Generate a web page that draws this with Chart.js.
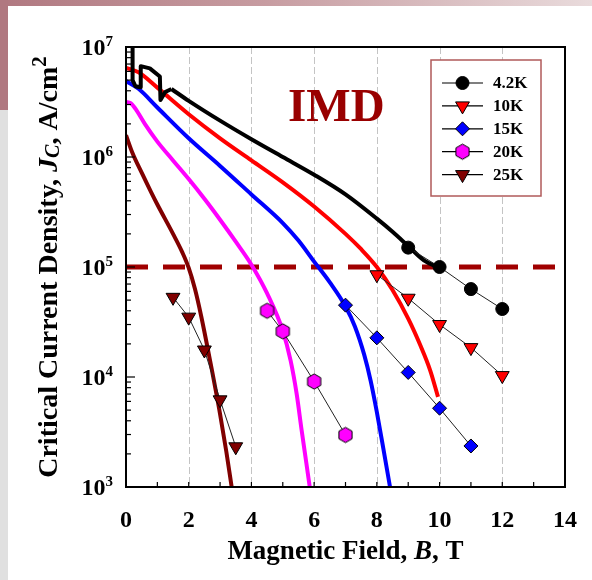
<!DOCTYPE html>
<html><head><meta charset="utf-8">
<script src="https://cdn.jsdelivr.net/npm/chart.js@4/dist/chart.umd.min.js"></script>
<style>
html,body{margin:0;padding:0;}
body{width:592px;height:580px;position:relative;background:#fff;overflow:hidden;}
#topband{position:absolute;left:0;top:0;width:592px;height:6px;background:linear-gradient(to right,#b07880,#c79ca1 45%,#e9dbdc);}
#leftbar{position:absolute;left:0;top:0;width:8px;height:110px;background:#b07880;}
#leftstrip{position:absolute;left:0;top:110px;width:8px;height:470px;background:#e0e0e0;}
canvas{position:absolute;left:0;top:0;}
</style></head>
<body>
<div id="topband"></div><div id="leftbar"></div><div id="leftstrip"></div>
<canvas id="c" width="592" height="580"></canvas>
<script>
// ---- Data (B in tesla, Jc in A/cm^2) ----
// Continuous measured curves
const curve42_jumpB = [0.21, 0.21, 0.30, 0.45, 0.47, 0.76, 1.08, 1.10, 1.25, 1.45];
const curve42_jumpJ = [1.3e7, 5.0e6, 4.4e6, 4.3e6, 6.7e6, 6.4e6, 5.4e6, 3.3e6, 3.9e6, 4.15e6];
const curve42B = [1.45, 2, 3, 4, 5, 6, 7, 8, 8.5, 9, 9.5, 10];
const curve42J = [4.15e6, 3.24e6, 2.14e6, 1.45e6, 1.0e6, 6.9e5, 4.57e5, 2.75e5, 2.09e5, 1.55e5, 1.15e5, 9.8e4];
const curve10B = [0, 0.4, 1, 2, 3, 4, 5, 6, 7, 7.5, 8, 8.5, 9, 9.4, 9.7, 9.95];
const curve10J = [6.46e6, 5.89e6, 4.27e6, 2.45e6, 1.48e6, 9.33e5, 5.89e5, 3.55e5, 2.0e5, 1.45e5, 1.0e5, 6.17e4, 3.39e4, 1.9e4, 1.15e4, 6.6e3];
const curve15B = [0, 0.4, 1, 2, 3, 4, 5, 5.5, 6, 6.5, 7, 7.3, 7.6, 7.8, 8.0, 8.2, 8.42];
const curve15J = [4.9e6, 4.17e6, 2.82e6, 1.48e6, 8.3e5, 4.57e5, 2.51e5, 1.74e5, 1.12e5, 7.24e4, 4.37e4, 2.88e4, 1.58e4, 9.3e3, 4.8e3, 2.29e3, 1.0e3];
const curve20B = [0, 0.15, 0.3, 0.6, 1, 1.5, 2, 2.5, 3, 3.5, 4, 4.5, 5, 5.25, 5.44, 5.6, 5.75, 5.86];
const curve20J = [3.16e6, 3.09e6, 2.75e6, 2.0e6, 1.38e6, 9.3e5, 6.3e5, 4.17e5, 2.69e5, 1.7e5, 1.05e5, 5.75e4, 2.63e4, 1.41e4, 7.1e3, 3.3e3, 1.66e3, 1.0e3];
const curve25B = [0, 0.2, 0.5, 0.8, 1, 1.5, 1.8, 2.0, 2.2, 2.4, 2.7, 3.0, 3.2, 3.37];
const curve25J = [1.58e6, 1.1e6, 7.2e5, 4.8e5, 3.7e5, 2.0e5, 1.35e5, 9.8e4, 6.3e4, 3.55e4, 1.32e4, 4.6e3, 2.09e3, 1.0e3];
// Discrete points (markers)
const mark42B = [9, 10, 11, 12];
const mark42J = [1.5e5, 1.0e5, 6.3e4, 4.15e4];
const mark10B = [8, 9, 10, 11, 12];
const mark10J = [8.5e4, 5.2e4, 3.0e4, 1.85e4, 1.03e4];
const mark15B = [7, 8, 9, 10, 11];
const mark15J = [4.5e4, 2.27e4, 1.1e4, 5.2e3, 2.36e3];
const mark20B = [4.5, 5, 6, 7];
const mark20J = [4.0e4, 2.6e4, 9.1e3, 2.97e3];
const mark25B = [1.5, 2, 2.5, 3, 3.5];
const mark25J = [5.3e4, 3.5e4, 1.76e4, 6.2e3, 2.32e3];
const seriesNames = ['4.2K', '10K', '15K', '20K', '25K'];
const refLevel = [1e5, 1e5];
const refB = [0, 14];
const xTickValues = [0, 2, 4, 6, 8, 10, 12, 14];
const yTickExponents = [3, 4, 5, 6, 7];

// ---- helpers ----
const pts = (bs, js) => bs.map((b, i) => ({x: b, y: js[i]}));
const FONT = '"Liberation Serif", "Times New Roman", serif';

function hexImage(fill) {
  const c = document.createElement('canvas');
  c.width = 19; c.height = 19;
  const g = c.getContext('2d');
  g.beginPath();
  for (let k = 0; k < 6; k++) {
    const a = Math.PI / 6 + k * Math.PI / 3;
    const px = 9.5 + 7.6 * Math.cos(a), py = 9.5 + 7.6 * Math.sin(a);
    k ? g.lineTo(px, py) : g.moveTo(px, py);
  }
  g.closePath();
  g.fillStyle = fill; g.fill();
  g.lineWidth = 1; g.strokeStyle = '#000'; g.stroke();
  return c;
}
const hex20 = hexImage('#ff00ff');

const markerStyles = [
  {style: 'circle', r: 6.5, rot: 0, fill: '#000000'},
  {style: 'triangle', r: 8, rot: 180, fill: '#ff0000'},
  {style: 'rectRot', r: 7, rot: 0, fill: '#0000ff'},
  {style: hex20, r: 7.5, rot: 0, fill: '#ff00ff'},
  {style: 'triangle', r: 8, rot: 180, fill: '#800000'}
];
const curveColors = ['#000000', '#ff0000', '#0000ff', '#ff00ff', '#800000'];

const datasets = [];
datasets.push({data: pts(refB, refLevel), borderColor: '#a00000', borderWidth: 5, borderDash: [22, 15],
  pointRadius: 0, order: 50, clip: 0});
const curveSets = [
  [curve42_jumpB, curve42_jumpJ, 0, false],
  [curve42B, curve42J, 0, true],
  [curve10B, curve10J, 1, true],
  [curve15B, curve15J, 2, true],
  [curve20B, curve20J, 3, true],
  [curve25B, curve25J, 4, true]
];
curveSets.forEach(([b, j, ci, smooth]) => {
  datasets.push({data: pts(b, j), borderColor: curveColors[ci], borderWidth: 4, pointRadius: 0,
    cubicInterpolationMode: smooth ? 'monotone' : 'default', tension: 0, order: 20, clip: 0,
    borderJoinStyle: 'round', borderCapStyle: 'butt'});
});
const markSets = [[mark42B, mark42J], [mark10B, mark10J], [mark15B, mark15J], [mark20B, mark20J], [mark25B, mark25J]];
markSets.forEach(([b, j], i) => {
  const m = markerStyles[i];
  datasets.push({label: seriesNames[i], data: pts(b, j), borderColor: '#222', borderWidth: 1,
    pointStyle: m.style, pointRadius: m.r, pointRotation: m.rot, pointBackgroundColor: m.fill,
    pointBorderColor: '#000', pointBorderWidth: 1, tension: 0, order: 10, isMarker: true});
});

function drawMarker(ctx, m, x, y) {
  ctx.save();
  if (typeof m.style !== 'string') {
    ctx.drawImage(m.style, x - m.style.width / 2, y - m.style.height / 2);
    ctx.restore(); return;
  }
  ctx.beginPath();
  const r = m.r;
  if (m.style === 'circle') {
    ctx.arc(x, y, r, 0, Math.PI * 2);
  } else if (m.style === 'triangle') {
    const s = m.rot === 180 ? -1 : 1;
    ctx.moveTo(x, y - s * r);
    ctx.lineTo(x + r * Math.sin(2 * Math.PI / 3), y + s * r / 2);
    ctx.lineTo(x - r * Math.sin(2 * Math.PI / 3), y + s * r / 2);
    ctx.closePath();
  } else if (m.style === 'rectRot') {
    ctx.moveTo(x, y - r); ctx.lineTo(x + r, y); ctx.lineTo(x, y + r); ctx.lineTo(x - r, y); ctx.closePath();
  }
  ctx.fillStyle = m.fill; ctx.fill();
  ctx.lineWidth = 1; ctx.strokeStyle = '#000'; ctx.stroke();
  ctx.restore();
}

function drawRuns(ctx, runs, cx, baseY, size) {
  let total = 0;
  runs.forEach(r => {
    const s = size * (r.scale || 1);
    ctx.font = (r.italic ? 'italic ' : '') + 'bold ' + s + 'px ' + FONT;
    r._w = ctx.measureText(r.t).width; r._s = s; total += r._w;
  });
  let x = cx - total / 2;
  runs.forEach(r => {
    ctx.font = (r.italic ? 'italic ' : '') + 'bold ' + r._s + 'px ' + FONT;
    ctx.fillText(r.t, x, baseY + (r.dy || 0));
    x += r._w;
  });
}

const decor = {
  id: 'decor',
  beforeDatasetsDraw(chart) {
    const {ctx, chartArea: a, scales: {x}} = chart;
    ctx.save();
    ctx.strokeStyle = '#c4c4c4'; ctx.lineWidth = 1; ctx.setLineDash([7, 3]);
    xTickValues.forEach(v => {
      if (v <= x.min || v >= x.max) return;
      const px = Math.round(x.getPixelForValue(v)) + 0.5;
      ctx.beginPath(); ctx.moveTo(px, a.top); ctx.lineTo(px, a.bottom); ctx.stroke();
    });
    ctx.restore();
  },
  afterDatasetsDraw(chart) {
    const {ctx, chartArea: a, scales: {x, y}} = chart;
    ctx.save();
    ctx.strokeStyle = '#000'; ctx.lineWidth = 2;
    ctx.strokeRect(a.left, a.top, a.right - a.left, a.bottom - a.top);
    ctx.lineWidth = 1.2;
    for (let e = yTickExponents[0]; e < yTickExponents[yTickExponents.length - 1]; e++) {
      for (let m = 1; m <= 9; m++) {
        const py = y.getPixelForValue(m * Math.pow(10, e));
        ctx.beginPath(); ctx.moveTo(a.left, py); ctx.lineTo(a.left + (m === 1 ? 9 : 5), py); ctx.stroke();
      }
    }
    for (let v = x.min; v <= x.max; v++) {
      const px = x.getPixelForValue(v);
      ctx.beginPath(); ctx.moveTo(px, a.bottom); ctx.lineTo(px, a.bottom - 5); ctx.stroke();
    }
    ctx.fillStyle = '#000';
    ctx.textAlign = 'center'; ctx.textBaseline = 'alphabetic';
    ctx.font = 'bold 24px ' + FONT;
    xTickValues.forEach(v => ctx.fillText(String(v), x.getPixelForValue(v), 527));
    ctx.textAlign = 'left';
    yTickExponents.forEach(e => {
      const py = y.getPixelForValue(Math.pow(10, e));
      ctx.font = 'bold 15px ' + FONT;
      const ws = ctx.measureText(String(e)).width;
      ctx.font = 'bold 24px ' + FONT;
      const wb = ctx.measureText('10').width;
      const x0 = 113 - ws - wb;
      ctx.fillText('10', x0, py + 8);
      ctx.font = 'bold 15px ' + FONT;
      ctx.fillText(String(e), x0 + wb, py - 1);
    });
    ctx.textAlign = 'left';
    drawRuns(ctx, [{t: 'Magnetic Field, '}, {t: 'B', italic: true}, {t: ', T'}], (a.left + a.right) / 2, 559, 27);
    ctx.save();
    ctx.translate(57, (a.top + a.bottom) / 2);
    ctx.rotate(-Math.PI / 2);
    drawRuns(ctx, [{t: 'Critical Current Density, '}, {t: 'J', italic: true},
      {t: 'C', italic: true, scale: 0.72, dy: 2}, {t: ', A/cm'}, {t: '2', scale: 0.75, dy: -11}], 0, 0, 28);
    ctx.restore();
    ctx.fillStyle = '#990000';
    ctx.font = 'bold 47px ' + FONT;
    ctx.textAlign = 'left';
    ctx.fillText('IMD', 288, 121);
    const L = {x: 431, y: 60, w: 110, h: 136};
    ctx.fillStyle = '#fff';
    ctx.fillRect(L.x, L.y, L.w, L.h);
    ctx.strokeStyle = '#b05a5a'; ctx.lineWidth = 1.5;
    ctx.strokeRect(L.x, L.y, L.w, L.h);
    const rows = chart.data.datasets.filter(d => d.isMarker);
    rows.forEach((d, i) => {
      const ry = 83 + i * 22.9;
      ctx.strokeStyle = '#000'; ctx.lineWidth = 1.2;
      ctx.beginPath(); ctx.moveTo(442, ry); ctx.lineTo(483, ry); ctx.stroke();
      drawMarker(ctx, markerStyles[i], 462.5, ry);
      ctx.fillStyle = '#000';
      ctx.font = 'bold 17px ' + FONT;
      ctx.textBaseline = 'middle';
      ctx.fillText(d.label, 493, ry + 1);
      ctx.textBaseline = 'alphabetic';
    });
    ctx.restore();
  }
};

new Chart(document.getElementById('c'), {
  type: 'line',
  data: {datasets},
  options: {
    responsive: false,
    animation: false,
    devicePixelRatio: 1,
    events: [],
    layout: {padding: {left: 126, top: 47, right: 27, bottom: 93}},
    plugins: {legend: {display: false}, tooltip: {enabled: false}},
    scales: {
      x: {type: 'linear', min: 0, max: 14, display: false},
      y: {type: 'logarithmic', min: 1e3, max: 1e7, display: false}
    }
  },
  plugins: [decor]
});
</script>
</body></html>
